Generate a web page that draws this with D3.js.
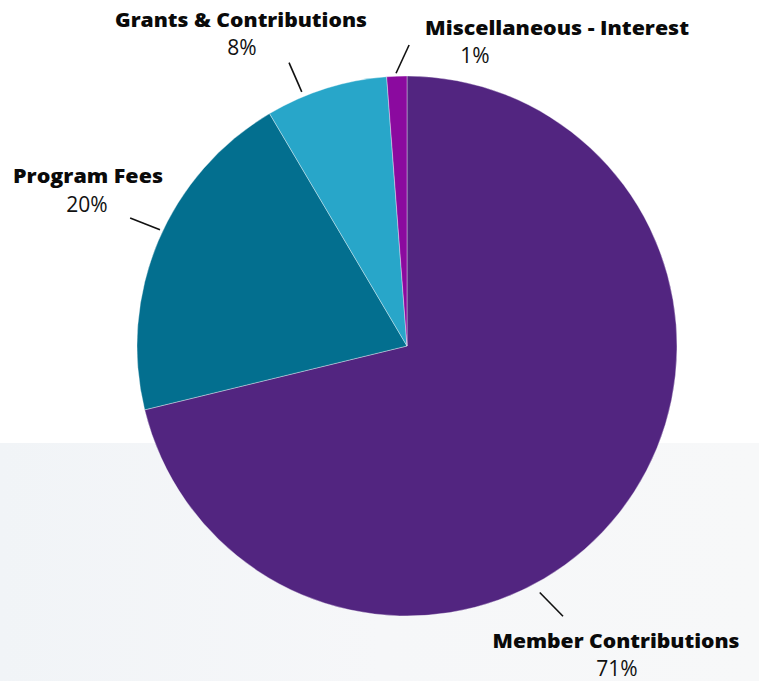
<!DOCTYPE html>
<html><head><meta charset="utf-8">
<script src="https://cdn.jsdelivr.net/npm/d3@7/dist/d3.min.js"></script>
<style>html,body{margin:0;padding:0;background:#fff;}svg{display:block;}</style>
</head><body>
<svg id="c" width="759" height="681"></svg>
<script>
const categories = ["Member Contributions", "Program Fees", "Grants & Contributions", "Miscellaneous - Interest"];
const values = [71.2, 20.3, 7.3, 1.2];
const percentLabels = ["71%", "20%", "8%", "1%"];
const colors = ["#522580", "#036f8f", "#28a6c9", "#8b0a9f"];

const W = 759, H = 681, cx = 407, cy = 346, R = 270;
const svg = d3.select("#c");

// background
const defs = svg.append("defs");
const g1 = defs.append("linearGradient").attr("id","bg").attr("x1","0").attr("x2","1").attr("y1","0").attr("y2","0");
g1.append("stop").attr("offset","0").attr("stop-color","#f1f4f7");
g1.append("stop").attr("offset","0.5").attr("stop-color","#f6f7f9");
g1.append("stop").attr("offset","1").attr("stop-color","#f7f8f9");
svg.append("rect").attr("width",W).attr("height",H).attr("fill","#fff");
svg.append("rect").attr("x",0).attr("y",443).attr("width",W).attr("height",H-443).attr("fill","url(#bg)");

const pie = d3.pie().sort(null).value(d => d)(values);
const arc = d3.arc().innerRadius(0).outerRadius(R);
svg.append("g").attr("transform",`translate(${cx},${cy})`)
  .selectAll("path").data(pie).join("path")
  .attr("d", arc).attr("fill", (d,i) => colors[i])
  .attr("stroke","#ffffff").attr("stroke-width",0.6).attr("stroke-opacity",0.6);

// leader lines, polar placement (degrees clockwise from top, radius from pie centre)
const leadInner = [[151.7, 280], [295.2, 273], [337.5, 275], [357.7, 273]];
const leadOuter = [[150.0, 312], [294.8, 305], [337.4, 307], [360.4, 301]];
const polar = (p) => { const a = p[0] * Math.PI / 180; return [cx + Math.sin(a) * p[1], cy - Math.cos(a) * p[1]]; };
// label anchor positions: [labelX, labelY, pctX, pctY, labelWidth]
const labelPos = [[616, 648, 617, 676, 247], [88, 183, 87, 212, 150], [241, 27, 242, 55, 252], [557, 35, 475, 63, 264]];

const lg = svg.append("g");
pie.forEach((d, i) => {
  const a = polar(leadInner[i]), b = polar(leadOuter[i]);
  lg.append("line")
    .attr("x1", a[0]).attr("y1", a[1]).attr("x2", b[0]).attr("y2", b[1])
    .attr("stroke", "#111").attr("stroke-width", 1.6);
});

const tg = svg.append("g").attr("font-family","'Open Sans', 'DejaVu Sans', sans-serif");
categories.forEach((c, i) => {
  const p = labelPos[i];
  tg.append("text").attr("x", p[0]).attr("y", p[1]).attr("text-anchor","middle")
    .attr("font-size", 20).attr("font-weight", 800).attr("fill","#0a0a0a")
    .attr("textLength", p[4]).attr("lengthAdjust","spacingAndGlyphs")
    .text(c);
  tg.append("text").attr("x", p[2]).attr("y", p[3]).attr("text-anchor","middle")
    .attr("font-size", 21).attr("font-weight", 400).attr("fill","#111")
    .text(percentLabels[i]);
});
</script>
</body></html>
